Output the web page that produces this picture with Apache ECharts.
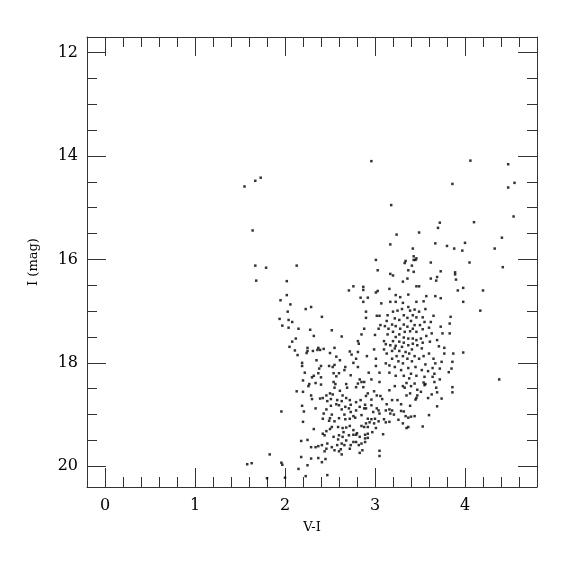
<!DOCTYPE html>
<html>
<head>
<meta charset="utf-8">
<title>V-I / I diagram</title>
<script src="https://cdn.jsdelivr.net/npm/echarts@6/dist/echarts.min.js"></script>
<style>
html,body{margin:0;padding:0;background:#fff;}
#chart{width:575px;height:575px;}
</style>
</head>
<body>
<div id="chart"></div>
<script>
/* stars: [V-I, I] */
const upperStars = [
  [2.96,14.10],[4.06,14.09],[4.48,14.16],[1.73,14.42],[1.67,14.48],[1.55,14.59],[3.86,14.54],[4.55,14.52],
  [4.48,14.61],[3.18,14.95],[4.54,15.17],[4.10,15.28],[3.72,15.29],[3.70,15.39],[1.64,15.44],[3.49,15.48],
  [3.24,15.52],[4.41,15.58],[3.17,15.71],[3.67,15.69],[3.80,15.74],[4.00,15.68],[3.88,15.79],[3.97,15.83],
  [4.33,15.79],[3.42,15.79],[3.43,15.94],[3.46,15.98],[3.43,16.01],[3.45,16.01],[3.34,16.03],[3.33,16.07],
  [3.01,16.01],[3.62,16.06],[4.05,16.06],[3.41,16.12],[1.67,16.12],[1.79,16.16],[2.13,16.12],[4.42,16.15],
  [3.03,16.21],[3.37,16.21],[3.43,16.24],[3.73,16.23],[3.89,16.25],[3.89,16.29],[3.17,16.28],[3.20,16.31],
  [3.36,16.37],[3.31,16.43],[3.62,16.37],[3.69,16.34],[3.68,16.41],[3.90,16.39],[1.68,16.41],[2.02,16.42]
];

const blueBranch = [
  [2.76,16.52],[2.71,16.60],[2.02,16.69],[1.95,16.79],[2.06,16.87],[2.29,16.92],[2.23,16.96],[2.03,17.01],
  [2.41,17.11],[1.94,17.15],[2.04,17.17],[2.08,17.21],[1.97,17.28],[2.04,17.32],[2.15,17.34],[2.28,17.36],
  [2.52,17.37],[2.32,17.48],[2.63,17.49],[2.12,17.53],[2.08,17.59],[2.05,17.69],[2.25,17.71],[2.37,17.71],
  [2.36,17.75],[2.39,17.75],[2.43,17.73],[2.55,17.71],[2.11,17.76],[2.25,17.77],[2.31,17.77],[2.24,17.81],
  [2.50,17.81],[2.72,17.78],[2.74,17.84],[2.14,17.85],[2.57,17.88],[2.35,17.95],[2.61,17.95],[2.19,18.00],
  [2.76,18.00],[2.19,18.06],[2.40,18.06],[2.49,18.06],[2.55,18.04],[2.53,18.08],[2.38,18.11],[2.67,18.08],
  [2.66,18.14],[2.22,18.19],[2.37,18.20],[2.54,18.20],[2.60,18.20],[2.32,18.25],[2.30,18.28],[2.40,18.28],
  [2.57,18.26],[2.73,18.24],[2.20,18.34],[2.27,18.41],[2.34,18.39],[2.40,18.42],[2.54,18.37],[2.56,18.41],
  [2.68,18.41]
];

const giantBranch = [
  [2.87,16.53],[2.87,16.59],[3.03,16.61],[3.01,16.64],[3.16,16.57],[3.46,16.52],[3.49,16.52],[3.92,16.60],
  [3.98,16.55],[3.23,16.69],[3.37,16.68],[3.57,16.71],[3.67,16.71],[2.84,16.74],[2.92,16.74],[3.73,16.75],
  [3.17,16.82],[3.23,16.82],[3.31,16.84],[3.46,16.82],[3.54,16.81],[3.07,16.85],[2.87,16.82],[3.98,16.82],
  [3.37,16.92],[3.56,16.96],[3.30,16.96],[3.39,16.99],[3.44,16.97],[3.20,17.01],[3.25,16.99],[3.49,17.01],
  [2.90,17.01],[3.02,17.09],[3.05,17.09],[3.14,17.08],[3.32,17.08],[3.42,17.08],[3.46,17.12],[3.36,17.13],
  [3.53,17.12],[2.90,17.13],[3.22,17.14],[3.65,17.09],[3.84,17.11],[3.27,17.17],[3.13,17.19],[3.40,17.19],
  [3.55,17.21],[3.62,17.21],[3.83,17.24],[3.06,17.27],[3.11,17.29],[3.19,17.26],[3.23,17.29],[3.32,17.26],
  [3.36,17.30],[3.44,17.27],[3.50,17.27],[3.73,17.30],[3.60,17.32],[2.88,17.34],[3.04,17.34],[3.15,17.34],
  [3.28,17.34],[3.42,17.34],[3.53,17.35],[3.20,17.40],[3.33,17.40],[3.39,17.39],[3.46,17.40],[3.63,17.43],
  [3.75,17.43],[3.83,17.43],[2.85,17.45],[3.14,17.45],[3.27,17.45],[3.00,17.46],[3.57,17.48],[3.23,17.50],
  [3.32,17.51],[3.37,17.53],[3.42,17.53],[3.46,17.56],[3.51,17.53],[3.69,17.56],[2.81,17.58],[3.10,17.58],
  [3.20,17.58],[3.27,17.59],[3.32,17.61],[3.42,17.63],[3.53,17.61],[3.61,17.59],[2.82,17.63],[3.12,17.64],
  [3.17,17.66],[3.23,17.67],[3.37,17.66],[3.47,17.66],[3.30,17.69],[3.71,17.68],[3.77,17.71],[2.99,17.74],
  [3.10,17.74],[3.22,17.72],[3.41,17.74],[3.52,17.72],[3.19,17.77],[3.27,17.77],[3.34,17.79],[2.81,17.79],
  [3.13,17.82],[3.38,17.82],[3.60,17.82],[3.77,17.82],[3.87,17.82],[3.24,17.87],[3.31,17.87],[3.44,17.87],
  [3.54,17.87],[2.91,17.87],[3.01,17.92],[3.19,17.92],[3.36,17.92],[3.49,17.92],[3.65,17.92],[2.79,17.92],
  [3.26,17.97],[3.41,17.97],[3.74,17.98],[3.12,18.01],[3.31,18.01],[3.56,18.03],[3.67,18.01],[3.16,18.05],
  [3.86,17.98],[2.81,18.08],[3.01,18.06],[3.22,18.08],[3.37,18.10],[3.45,18.08],[3.64,18.10],[3.72,18.11],
  [3.85,18.11],[3.29,18.14],[3.52,18.14],[3.59,18.16],[3.05,18.19],[3.16,18.19],[3.40,18.21],[3.66,18.21],
  [3.82,18.18],[2.93,18.19],[3.23,18.25],[3.32,18.25],[3.46,18.25],[3.55,18.27],[3.64,18.27],[2.83,18.32],
  [2.96,18.32],[3.38,18.30],[3.72,18.32],[2.88,18.37],[3.05,18.37],[3.35,18.39],[3.54,18.38],[3.56,18.41],
  [3.66,18.37],[2.81,18.40],[2.85,18.37],[3.44,18.40]
];

const faintBlue = [
  [2.26,18.45],[2.13,18.55],[2.20,18.56],[2.55,18.48],[2.61,18.54],[2.69,18.48],[2.50,18.59],[2.46,18.63],
  [2.29,18.63],[2.53,18.61],[2.64,18.63],[2.39,18.69],[2.30,18.70],[2.42,18.68],[2.47,18.74],[2.58,18.72],
  [2.51,18.70],[2.63,18.74],[2.72,18.72],[2.68,18.68],[2.19,18.83],[2.51,18.83],[2.60,18.82],[2.67,18.85],
  [2.71,18.88],[2.34,18.88],[2.46,18.90],[2.63,18.90],[1.96,18.94],[2.21,18.94],[2.73,18.95],[2.43,18.98],
  [2.52,19.00],[2.66,19.00],[2.76,19.03],[2.50,19.07],[2.60,19.07],[2.67,19.09],[2.72,19.08],[2.49,19.12],
  [2.20,19.14],[2.55,19.13],[2.59,19.24],[2.64,19.26],[2.52,19.24],[2.68,19.25],[2.72,19.22],[2.50,19.28],
  [2.32,19.28],[2.46,19.32],[2.76,19.30],[2.42,19.37],[2.44,19.40],[2.54,19.43],[2.60,19.40],[2.64,19.43],
  [2.71,19.40],[2.76,19.39],[2.59,19.48],[2.68,19.50],[2.25,19.49],[2.18,19.51],[2.76,19.53],[2.47,19.56],
  [2.41,19.59],[2.37,19.61],[2.58,19.59],[2.66,19.59],[2.63,19.56],[2.73,19.59],[2.29,19.63],[2.34,19.63],
  [2.46,19.66],[2.52,19.63],[2.62,19.67],[2.44,19.71],[2.60,19.71],[2.63,19.77],[1.83,19.77],[2.18,19.82],
  [2.29,19.85],[2.37,19.84],[2.45,19.86],[1.58,19.96],[1.63,19.94],[1.96,19.93],[1.97,19.97],[2.25,19.98],
  [2.15,20.05],[2.23,20.19],[2.47,20.17],[1.80,20.23],[2.00,20.22],[2.41,19.92],[2.57,18.80],[2.73,18.81],
  [2.42,19.08],[2.65,19.34],[2.55,19.69],[2.72,19.66]
];

const faintRed = [
  [2.79,18.47],[2.87,18.47],[3.22,18.45],[3.31,18.45],[3.33,18.48],[3.40,18.45],[3.55,18.43],[3.86,18.47],
  [2.99,18.55],[2.92,18.59],[3.16,18.53],[3.47,18.52],[3.51,18.56],[3.68,18.48],[3.69,18.57],[3.86,18.57],
  [2.90,18.64],[3.02,18.63],[3.06,18.64],[3.35,18.63],[3.39,18.59],[3.47,18.63],[3.46,18.68],[3.63,18.61],
  [3.59,18.68],[3.45,18.71],[3.74,18.69],[2.84,18.72],[2.96,18.71],[3.08,18.70],[3.19,18.72],[3.25,18.72],
  [2.79,18.76],[3.13,18.80],[3.29,18.80],[3.39,18.83],[3.69,18.84],[2.89,18.81],[2.96,18.82],[2.83,18.85],
  [2.88,18.88],[2.90,18.88],[3.02,18.88],[3.04,18.92],[3.12,18.92],[3.16,18.90],[3.19,18.92],[3.29,18.93],
  [3.32,18.94],[2.79,18.92],[2.98,18.95],[3.05,18.98],[3.17,18.98],[3.21,19.00],[2.85,19.01],[3.34,19.03],
  [3.37,19.06],[3.40,19.04],[3.44,19.03],[2.78,19.06],[2.92,19.08],[2.96,19.09],[3.00,19.08],[3.10,19.09],
  [3.04,19.13],[3.26,19.10],[3.12,19.15],[3.16,19.14],[3.31,19.17],[2.90,19.17],[2.94,19.15],[2.99,19.17],
  [2.85,19.22],[2.88,19.24],[2.92,19.24],[3.01,19.26],[3.35,19.26],[3.37,19.24],[3.53,19.23],[2.80,19.36],
  [2.79,19.39],[2.89,19.39],[2.92,19.37],[2.97,19.34],[3.09,19.38],[2.83,19.43],[2.89,19.46],[2.92,19.45],
  [2.79,19.53],[2.89,19.53],[2.82,19.59],[2.85,19.56],[2.86,19.69],[2.83,19.74],[3.05,19.70],[3.05,19.80]
];

const outliers = [
  [4.20,16.60],[4.17,16.99],[4.38,18.32],[3.98,17.80],[3.60,19.01],[3.28,16.73]
];

const xRange = [-0.2, 4.8];
const yRange = [11.7, 20.4];
const xMajor = [0, 4, 1];     // min, max, step of labelled ticks
const yMajor = [12, 20, 2];
const xMinorStep = 0.2;
const yMinorStep = 0.5;

const FONT = "DejaVu Serif";
const INK = "#333";

const stars = [].concat(upperStars, blueBranch, giantBranch, faintBlue, faintRed, outliers);

const frameLine = {show: true, onZero: false, lineStyle: {color: INK, width: 1}};
const noLine = {show: false};
const tick = len => ({show: true, inside: true, length: len, lineStyle: {color: INK, width: 1}});
const noLabel = {show: false};
const numLabel = margin => ({show: true, margin, color: "#000", fontFamily: FONT, fontSize: 16});
const nameStyle = {color: "#000", fontFamily: FONT, fontSize: 13};

const plot = {left: 87, top: 37, width: 450, height: 450};
const pxPerX = plot.width / (xRange[1] - xRange[0]);
const pxPerY = plot.height / (yRange[1] - yRange[0]);

// grids: 0 = data + frame, 1 = labelled x ticks, 2 = y ticks
const grids = [
  plot,
  {left: plot.left + (xMajor[0] - xRange[0]) * pxPerX, top: plot.top,
   width: (xMajor[1] - xMajor[0]) * pxPerX, height: plot.height},
  {left: plot.left, top: plot.top + (yMajor[0] - yRange[0]) * pxPerY,
   width: plot.width, height: (yMajor[1] - yMajor[0]) * pxPerY}
];

const base = {type: "value", splitLine: {show: false}};

const option = {
  animation: false,
  backgroundColor: "#fff",
  grid: grids,
  xAxis: [
    Object.assign({}, base, {gridIndex: 0, position: "bottom", min: xRange[0], max: xRange[1], interval: xMinorStep,
      axisLine: frameLine, axisTick: tick(10), axisLabel: noLabel,
      name: "V-I", nameLocation: "middle", nameGap: 34, nameTextStyle: nameStyle}),
    Object.assign({}, base, {gridIndex: 0, position: "top", min: xRange[0], max: xRange[1], interval: xMinorStep,
      axisLine: frameLine, axisTick: tick(10), axisLabel: noLabel}),
    Object.assign({}, base, {gridIndex: 1, position: "bottom", min: xMajor[0], max: xMajor[1], interval: xMajor[2],
      axisLine: noLine, axisTick: tick(19), axisLabel: numLabel(11)}),
    Object.assign({}, base, {gridIndex: 1, position: "top", min: xMajor[0], max: xMajor[1], interval: xMajor[2],
      axisLine: noLine, axisTick: tick(19), axisLabel: noLabel}),
    Object.assign({}, base, {gridIndex: 2, show: false, min: 0, max: 1})
  ],
  yAxis: [
    Object.assign({}, base, {gridIndex: 0, position: "left", min: yRange[0], max: yRange[1], inverse: true,
      axisLine: frameLine, axisTick: {show: false}, axisLabel: noLabel,
      name: "I (mag)", nameLocation: "middle", nameGap: 47, nameRotate: 90, nameTextStyle: nameStyle}),
    Object.assign({}, base, {gridIndex: 0, position: "right", min: yRange[0], max: yRange[1], inverse: true,
      axisLine: frameLine, axisTick: {show: false}, axisLabel: noLabel}),
    Object.assign({}, base, {gridIndex: 1, show: false, min: 0, max: 1}),
    Object.assign({}, base, {gridIndex: 2, position: "left", min: yMajor[0], max: yMajor[1], inverse: true,
      interval: yMinorStep, axisLine: noLine, axisTick: tick(10), axisLabel: noLabel}),
    Object.assign({}, base, {gridIndex: 2, position: "right", min: yMajor[0], max: yMajor[1], inverse: true,
      interval: yMinorStep, axisLine: noLine, axisTick: tick(10), axisLabel: noLabel}),
    Object.assign({}, base, {gridIndex: 2, position: "left", min: yMajor[0], max: yMajor[1], inverse: true,
      interval: yMajor[2], axisLine: noLine, axisTick: tick(19), axisLabel: numLabel(9)}),
    Object.assign({}, base, {gridIndex: 2, position: "right", min: yMajor[0], max: yMajor[1], inverse: true,
      interval: yMajor[2], axisLine: noLine, axisTick: tick(19), axisLabel: noLabel})
  ],
  series: [{
    type: "scatter",
    xAxisIndex: 0,
    yAxisIndex: 0,
    data: stars,
    symbol: "rect",
    symbolSize: 2.5,
    silent: true,
    itemStyle: {color: "#000"}
  }]
};

const chart = echarts.init(document.getElementById("chart"), null, {renderer: "canvas"});
chart.setOption(option);
</script>
</body>
</html>
